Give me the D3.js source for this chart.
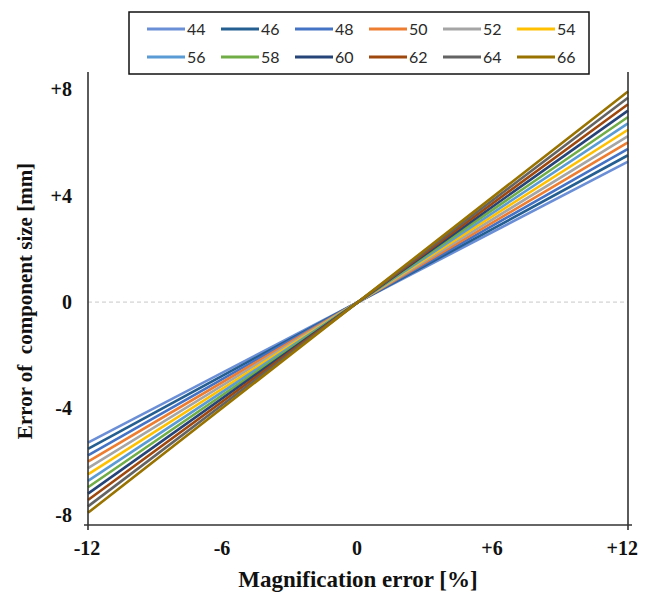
<!DOCTYPE html>
<html>
<head>
<meta charset="utf-8">
<script src="https://cdn.jsdelivr.net/npm/d3@7"></script>
<style>
  body { margin: 0; background: #fff; }
  svg { display: block; }
</style>
</head>
<body>
<svg id="chart" width="646" height="594"></svg>
<script>
// data
let kSizes = ["44","46","48","50","52","54","56","58","60","62","64","66"];
let kColors = ["#6b8fd6","#255e91","#4472c4","#ed7d31","#a5a5a5","#ffc000",
               "#5b9bd5","#70ad47","#264478","#9e480e","#636363","#997300"];
let kErrX = [-12, 0, 12];
let kErr44 = [-5.28, 0, 5.28];
let kErr46 = [-5.52, 0, 5.52];
let kErr48 = [-5.76, 0, 5.76];
let kErr50 = [-6.00, 0, 6.00];
let kErr52 = [-6.24, 0, 6.24];
let kErr54 = [-6.48, 0, 6.48];
let kErr56 = [-6.72, 0, 6.72];
let kErr58 = [-6.96, 0, 6.96];
let kErr60 = [-7.20, 0, 7.20];
let kErr62 = [-7.44, 0, 7.44];
let kErr64 = [-7.68, 0, 7.68];
let kErr66 = [-7.92, 0, 7.92];
let kSeries = [kErr44, kErr46, kErr48, kErr50, kErr52, kErr54,
               kErr56, kErr58, kErr60, kErr62, kErr64, kErr66];
let kXTicks = [-12, -6, 0, 6, 12];
let kYTicks = [8, 4, 0, -4, -8];

let kChart = { "x": 88, "y": 72, "w": 540, "h": 453 };

let svg = d3.select("#chart");
let serif = "'Liberation Serif', 'Times New Roman', serif";

let x = d3.scaleLinear().domain([-12, 12]).range([kChart.x, kChart.x + kChart.w]);
let y = d3.scaleLinear().domain([-8.38, 8.65]).range([kChart.y + kChart.h, kChart.y]);

function signed(v){
  return v > 0 ? "+" + v : String(v);
}

// zero gridline
svg.append("line")
  .attr("x1", x(-12)).attr("x2", x(12))
  .attr("y1", y(0)).attr("y2", y(0))
  .attr("stroke", "#c8c8c8")
  .attr("stroke-width", 1)
  .attr("stroke-dasharray", "4,3");

// series
let line = d3.line()
  .x(function(d, i){ return x(kErrX[i]); })
  .y(function(d){ return y(d); });

kSeries.forEach(function(s, i){
  svg.append("path")
    .datum(s)
    .attr("d", line)
    .attr("fill", "none")
    .attr("stroke", kColors[i])
    .attr("stroke-width", 2.6);
});

// axes frame
let axisColor = "#333";
svg.append("line")
  .attr("x1", x(-12)).attr("x2", x(-12))
  .attr("y1", kChart.y).attr("y2", kChart.y + kChart.h + 5)
  .attr("stroke", axisColor).attr("stroke-width", 1.6);
svg.append("line")
  .attr("x1", x(12)).attr("x2", x(12))
  .attr("y1", kChart.y).attr("y2", kChart.y + kChart.h + 5)
  .attr("stroke", axisColor).attr("stroke-width", 1.6);
svg.append("line")
  .attr("x1", x(-12) - 4).attr("x2", x(12) + 4)
  .attr("y1", kChart.y + kChart.h).attr("y2", kChart.y + kChart.h)
  .attr("stroke", axisColor).attr("stroke-width", 1.6);

// tick labels
svg.selectAll(".xt")
  .data(kXTicks)
  .enter().append("text")
  .attr("class", "xt")
  .attr("x", function(d){ return d === 12 ? x(d) + 10 : x(d) - 1; })
  .attr("y", 555)
  .attr("text-anchor", function(d){ return d === 12 ? "end" : "middle"; })
  .attr("font-family", serif)
  .attr("font-weight", "bold")
  .attr("font-size", 20)
  .attr("fill", "#111")
  .text(signed);

svg.selectAll(".yt")
  .data(kYTicks)
  .enter().append("text")
  .attr("class", "yt")
  .attr("x", 72)
  .attr("y", function(d){ return y(d); })
  .attr("dy", "0.35em")
  .attr("text-anchor", "end")
  .attr("font-family", serif)
  .attr("font-weight", "bold")
  .attr("font-size", 20)
  .attr("fill", "#111")
  .text(signed);

// axis titles
svg.append("text")
  .attr("x", 358)
  .attr("y", 587)
  .attr("text-anchor", "middle")
  .attr("font-family", serif)
  .attr("font-weight", "bold")
  .attr("font-size", 23)
  .attr("fill", "#111")
  .text("Magnification error [%]");

svg.append("text")
  .attr("transform", "translate(32,301) rotate(-90)")
  .attr("text-anchor", "middle")
  .attr("font-family", serif)
  .attr("font-weight", "bold")
  .attr("font-size", 21)
  .attr("fill", "#111")
  .attr("xml:space", "preserve")
  .style("white-space", "pre")
  .text("Error of  component size [mm]");

// legend
let lg = svg.append("g");
lg.append("rect")
  .attr("x", 129).attr("y", 12)
  .attr("width", 460).attr("height", 62)
  .attr("fill", "#fff")
  .attr("stroke", "#111")
  .attr("stroke-width", 1.5);

kSizes.forEach(function(s, i){
  let col = i % 6;
  let row = Math.floor(i / 6);
  let lx = 147 + col * 74;
  let ly = 29 + row * 28;
  lg.append("line")
    .attr("x1", lx).attr("x2", lx + 38)
    .attr("y1", ly).attr("y2", ly)
    .attr("stroke", kColors[i])
    .attr("stroke-width", 3.2);
  lg.append("text")
    .attr("x", lx + 40)
    .attr("y", ly)
    .attr("dy", "0.36em")
    .attr("font-family", "Lato, 'Open Sans', sans-serif")
    .attr("font-size", 16)
    .attr("fill", "#2a2a2a")
    .text(s);
});
</script>
</body>
</html>
